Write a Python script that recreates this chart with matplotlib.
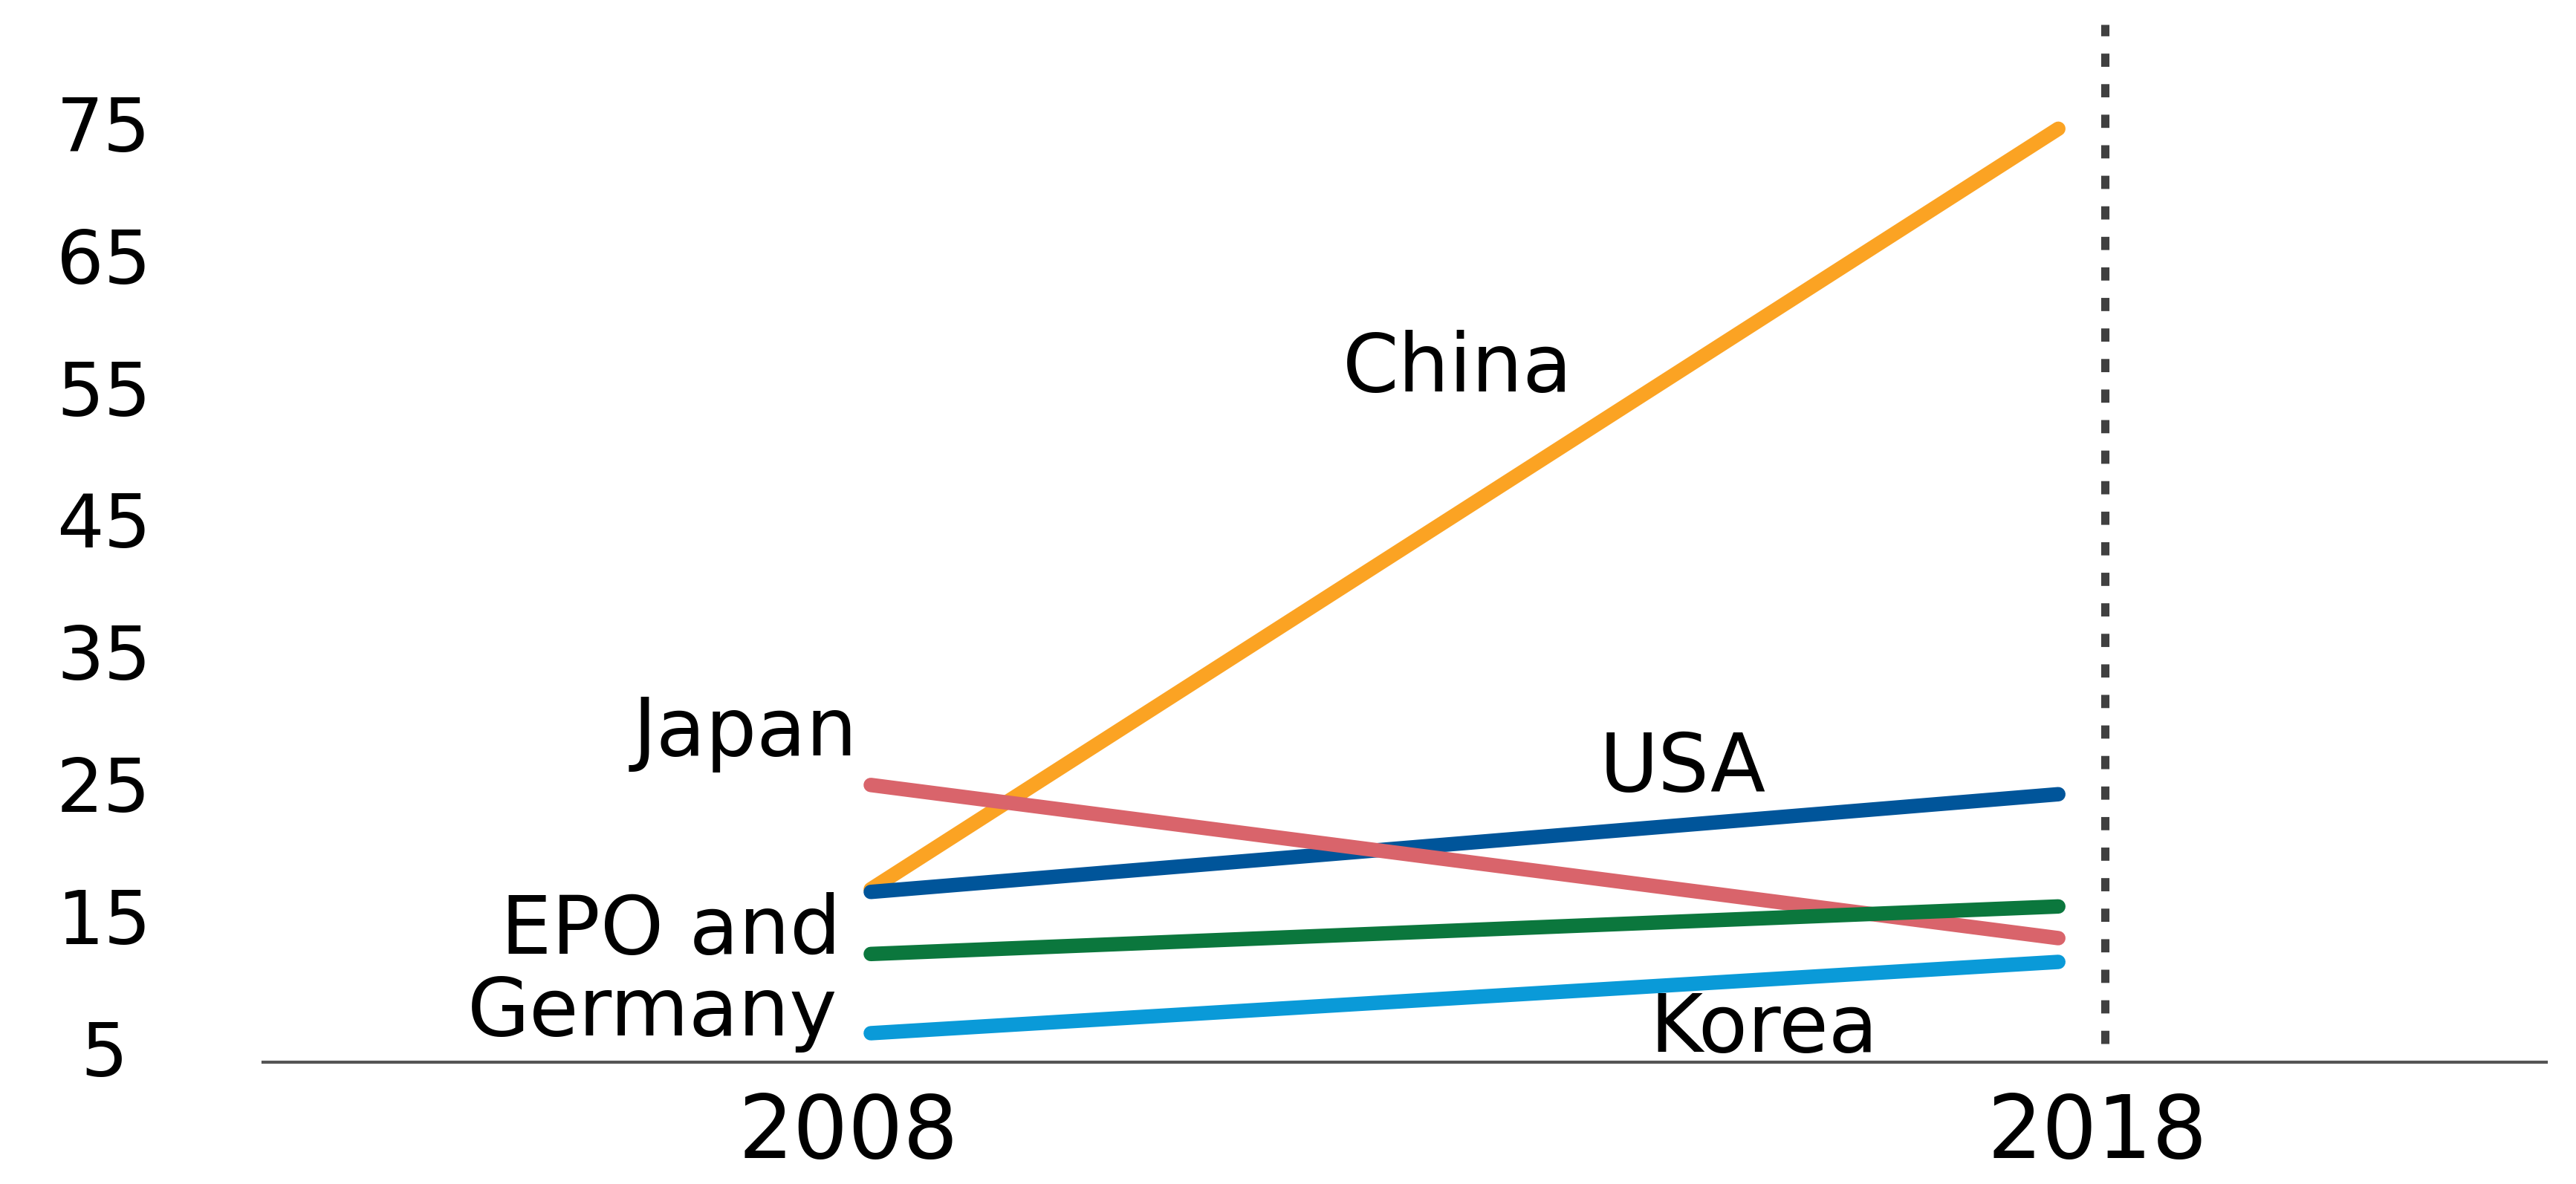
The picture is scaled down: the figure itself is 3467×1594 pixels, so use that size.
import matplotlib.pyplot as plt

plt.rcParams['font.family'] = ['DejaVu Sans']

# Data
years = [2008, 2018]
countries = ['China', 'USA', 'Japan', 'EPO and Germany', 'Korea']
china = [17.0, 74.6]
usa = [16.8, 24.2]
japan = [24.9, 13.3]
epo_germany = [12.1, 15.7]
korea = [6.1, 11.5]
series = [china, usa, japan, epo_germany, korea]
colors = ['#FBA323', '#00559A', '#D9646B', '#0B773D', '#0A9AD8']

y_ticks = [5, 15, 25, 35, 45, 55, 65, 75]
x_tick_labels = ['2008', '2018']

fig = plt.figure(figsize=(34.67, 15.94), dpi=100)
ax = fig.add_axes([0.102, 0.1026, 0.8865, 0.8974])

for vals, c in zip(series, colors):
    ax.plot(years, vals, color=c, linewidth=14, solid_capstyle='round')

# dotted marker line at 2018
ax.plot([2018.39, 2018.39], [5.3, 82.5], color='#404040', linewidth=8,
        linestyle=(0, (1.6, 2.1)))

# direct labels
lab_kw = dict(fontsize=78, color='black', va='center')
ax.text(2012.94, 56.4, 'China', ha='center', **lab_kw)
ax.text(2006.94, 28.8, 'Japan', ha='center', **lab_kw)
ax.text(2014.84, 26.1, 'USA', ha='center', **lab_kw)
ax.text(2007.75, 13.8, 'EPO and', ha='right', **lab_kw)
ax.text(2007.72, 7.6, 'Germany', ha='right', **lab_kw)
ax.text(2015.52, 6.4, 'Korea', ha='center', **lab_kw)

ax.set_xlim(2002.88, 2022.11)
ax.set_ylim(3.88, 84.35)

ax.set_yticks(y_ticks)
ax.set_yticklabels([str(v) for v in y_ticks], fontsize=72)
for lbl in ax.get_yticklabels():
    lbl.set_horizontalalignment('center')
ax.tick_params(axis='y', length=0, pad=154)

ax.set_xticks([2007.81, 2018.33])
ax.set_xticklabels(x_tick_labels, fontsize=84)
ax.tick_params(axis='x', length=0, pad=28)

for s in ['top', 'right', 'left']:
    ax.spines[s].set_visible(False)
ax.spines['bottom'].set_color('#555555')
ax.spines['bottom'].set_linewidth(3)

fig.savefig('out.png', dpi=100)
